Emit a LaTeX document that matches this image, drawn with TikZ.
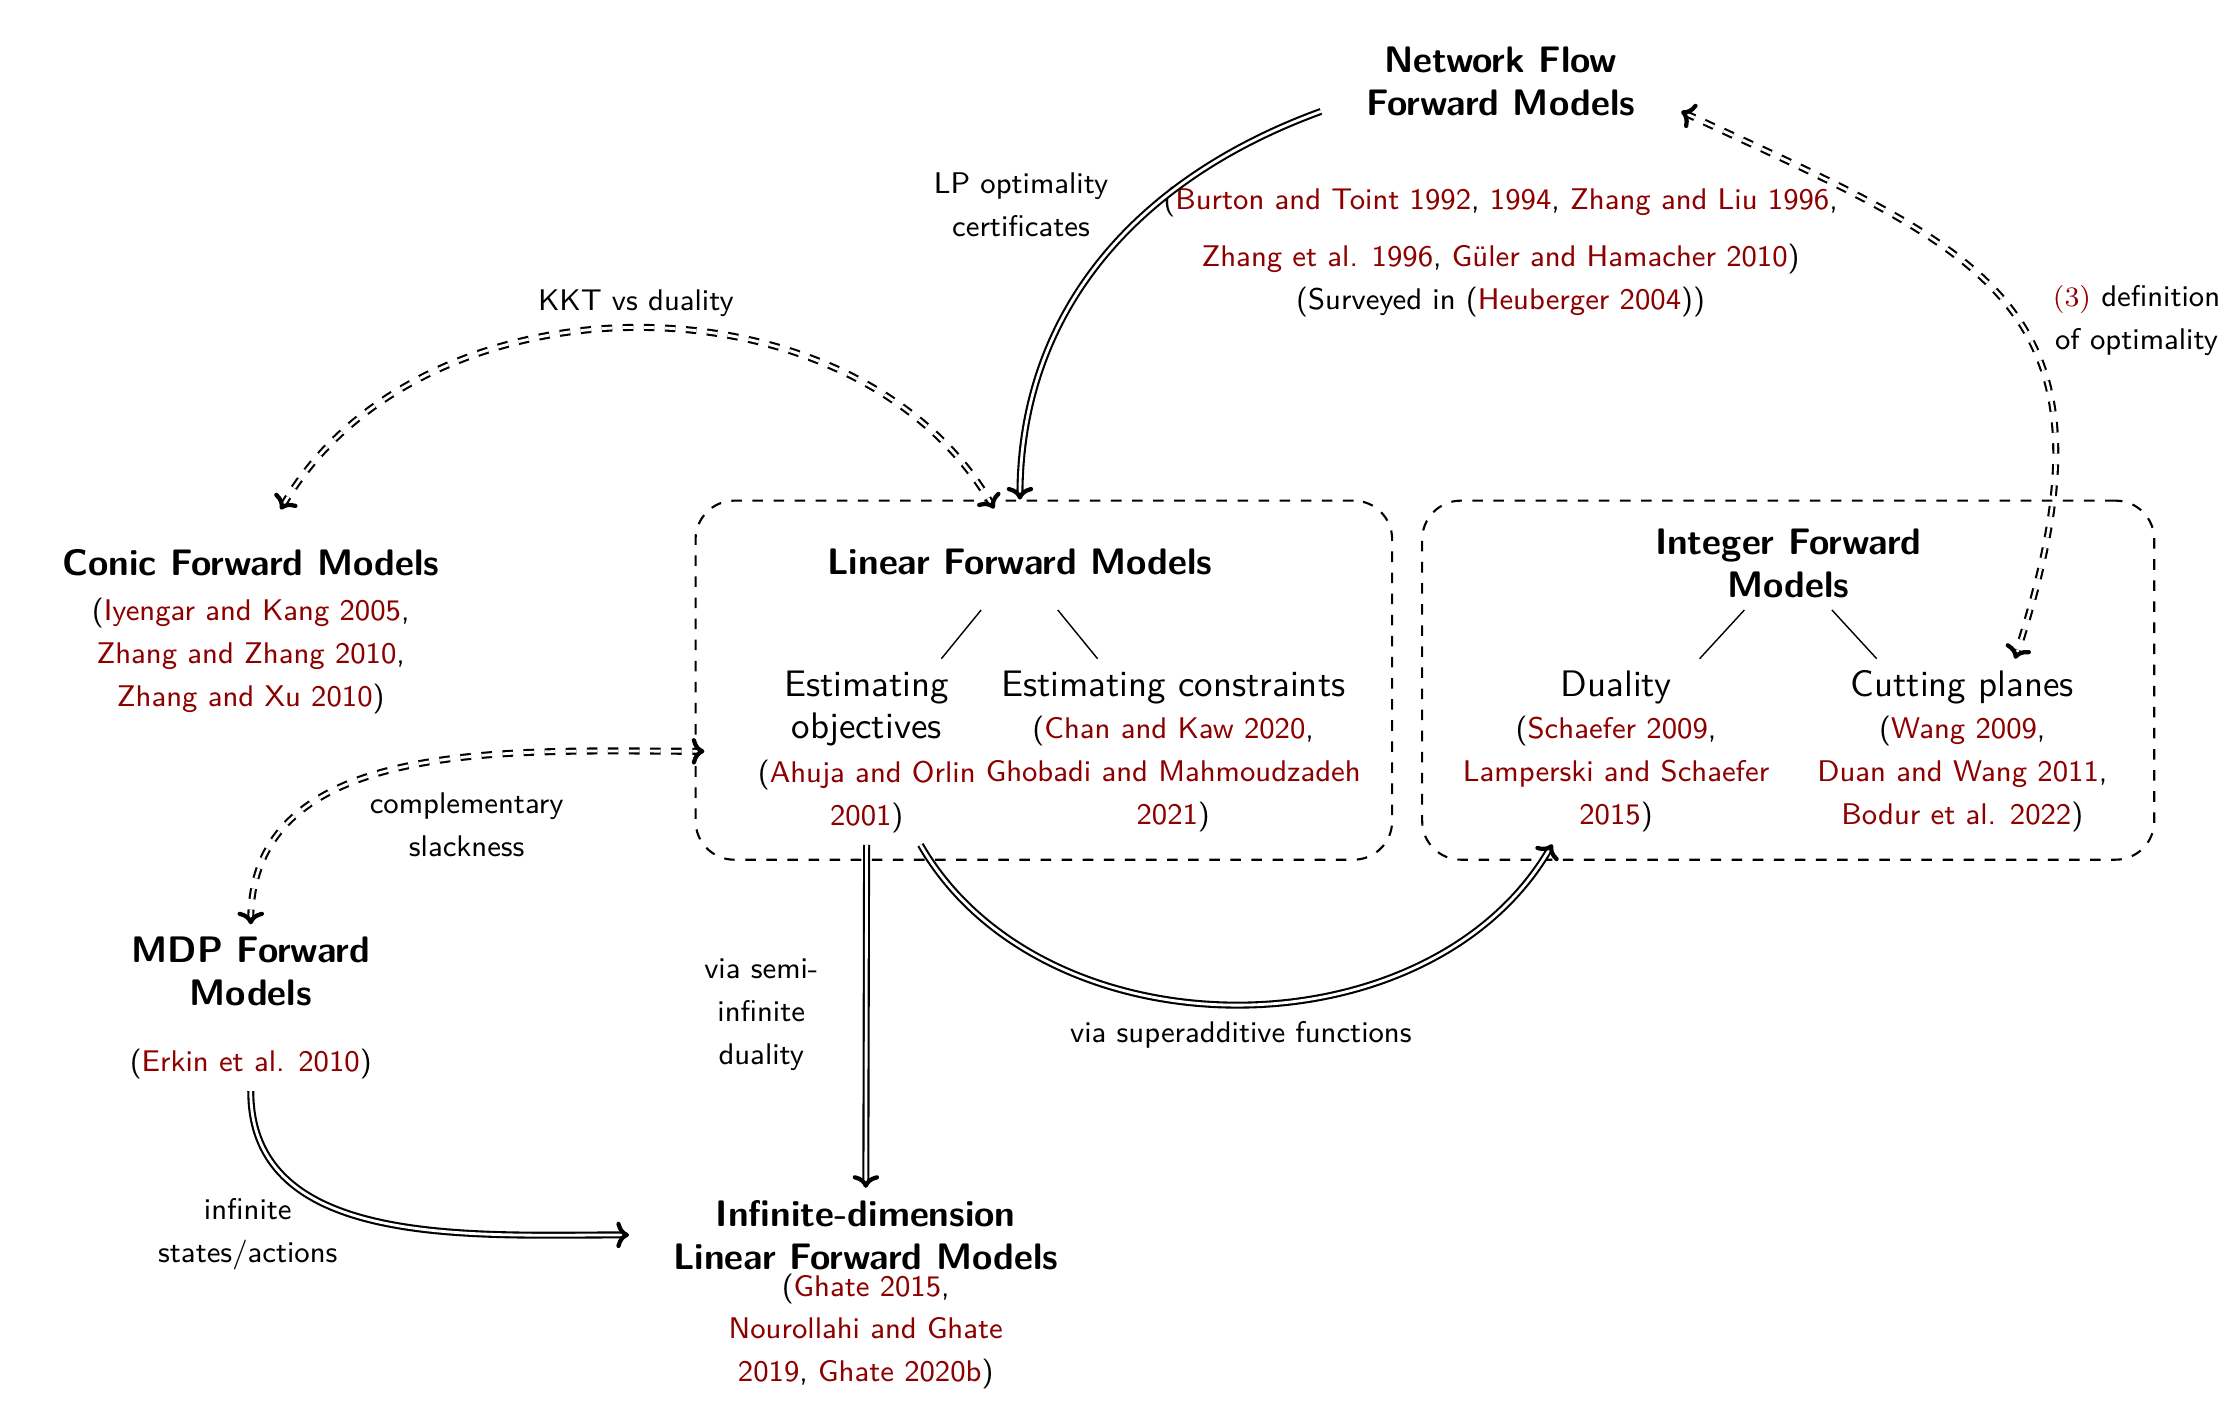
\documentclass[tikz,border=0pt]{standalone}
\usepackage{fontspec}
\usetikzlibrary{arrows.meta}
\definecolor{citered}{rgb}{0.55,0,0}
\newcommand{\rc}[1]{\textcolor{citered}{#1}}
\newcommand{\bigsf}{\sffamily\fontsize{10.5pt}{12.2pt}\selectfont}
\newcommand{\smallsf}{\sffamily\fontsize{8.5pt}{12.2pt}\selectfont}
\begin{document}
\begin{tikzpicture}[scale=0.995]
\tikzstyle{head}=[font=\bigsf\bfseries, align=center]
\tikzstyle{sub}=[font=\bigsf, align=center]
\tikzstyle{ref}=[font=\smallsf, align=center]
\tikzstyle{lbl}=[font=\smallsf, align=center]
\tikzstyle{box}=[draw, dashed, semithick, rounded corners=11pt, minimum height=3.59cm]
\tikzstyle{tip}=[-{To[length=3.6pt,width=7.5pt,line width=1.2pt]}]
\tikzstyle{dbl}=[semithick, double, double distance=0.8pt, tip]
\tikzstyle{ddbl}=[semithick, double, double distance=0.8pt, dashed, {To[length=3.6pt,width=7.5pt,line width=1.2pt]}-{To[length=3.6pt,width=7.5pt,line width=1.2pt]}]
\useasboundingbox (0,0) rectangle (22.46,-14.16);
\node [box, minimum width=6.965cm] (linbox) at (10.49,-6.835) {};
\node [box, minimum width=7.32cm] (intbox) at (17.97,-6.835) {};
\node [head] (nf) at (15.08,-0.82) {Network Flow\\Forward Models};
\node [ref] (nfref) at (15.08,-2.53) {(\rc{Burton and Toint 1992}, \rc{1994}, \rc{Zhang and Liu 1996},\\[4pt]\rc{Zhang et al. 1996}, \rc{G\"uler and Hamacher 2010})\\(Surveyed in (\rc{Heuberger 2004}))};
\node [head] (conic) at (2.52,-5.65) {Conic Forward Models};
\node [ref] (conicref) at (2.52,-6.59) {(\rc{Iyengar and Kang 2005},\\\rc{Zhang and Zhang 2010},\\\rc{Zhang and Xu 2010})};
\node [head] (lin) at (10.25,-5.65) {Linear Forward Models};
\node [sub] (obj) at (8.71,-7.12) {Estimating\\objectives};
\node [ref] (objref) at (8.71,-8.0) {(\rc{Ahuja and Orlin}\\\rc{2001})};
\node [sub] (cons) at (11.79,-6.91) {Estimating constraints};
\node [ref] (consref) at (11.79,-7.78) {(\rc{Chan and Kaw 2020},\\\rc{Ghobadi and Mahmoudzadeh}\\\rc{2021})};
\node [head] (int) at (17.97,-5.66) {Integer Forward\\Models};
\node [sub] (dual) at (16.24,-6.91) {Duality};
\node [ref] (dualref) at (16.24,-7.78) {(\rc{Schaefer 2009},\\\rc{Lamperski and Schaefer}\\\rc{2015})};
\node [sub] (cut) at (19.72,-6.91) {Cutting planes};
\node [ref] (cutref) at (19.72,-7.78) {(\rc{Wang 2009},\\\rc{Duan and Wang 2011},\\\rc{Bodur et al. 2022})};
\node [head] (mdp) at (2.52,-9.76) {MDP Forward\\Models};
\node [ref] (mdpref) at (2.52,-10.69) {(\rc{Erkin et al. 2010})};
\node [head] (inf) at (8.70,-12.41) {Infinite-dimension\\Linear Forward Models};
\node [ref, inner sep=1pt] (infref) at (8.70,-13.38) {(\rc{Ghate 2015},\\\rc{Nourollahi and Ghate}\\\rc{2019}, \rc{Ghate 2020b})};
\node [lbl] (lp) at (10.26,-2.06) {LP optimality\\certificates};
\node [lbl] (kkt) at (6.39,-3.05) {KKT vs duality};
\node [lbl] (def) at (21.47,-3.22) {\rc{$(3)$} definition\\of optimality};
\node [lbl] (comp) at (4.69,-8.29) {complementary\\slackness};
\node [lbl] (semi) at (7.65,-10.20) {via semi-\\infinite\\duality};
\node [lbl] (sup) at (12.47,-10.40) {via superadditive functions};
\node [lbl] (inst) at (2.49,-12.40) {infinite\\states/actions};
\draw ([shift={(-0.39,-0.48)}]lin.center) -- ([shift={(0.75,0.50)}]obj.center);
\draw ([shift={(0.38,-0.48)}]lin.center) -- ([shift={(-0.76,0.29)}]cons.center);
\draw ([shift={(-0.44,-0.47)}]int.center) -- ([shift={(0.84,0.29)}]dual.center);
\draw ([shift={(0.44,-0.47)}]int.center) -- ([shift={(-0.86,0.29)}]cut.center);
\draw [dbl] ([shift={(-0.33,-0.30)}]nf.west) to[out=200,in=90] ([xshift=-0.24cm]linbox.north);
\draw [ddbl] ([shift={(0.30,0.53)}]conic.center) to[out=60,in=120] ([shift={(-0.50,-0.09)}]linbox.north);
\draw [ddbl] ([shift={(0.34,-0.30)}]nf.east) to[out=-25,in=72,out looseness=1.35,in looseness=1.5] ([shift={(0.53,0.29)}]cut.center);
\draw [ddbl] (mdp.north) to[out=90,in=180] ([shift={(0.10,-0.715)}]linbox.west);
\draw [dbl] (objref) -- (inf);
\draw [dbl] ([xshift=0.54cm]objref.south) to[out=-60,in=240] ([xshift=-0.64cm]dualref.south);
\draw [dbl] (mdpref) to[out=-90,in=180] ([xshift=-0.32cm]inf.west);
\end{tikzpicture}
\end{document}
